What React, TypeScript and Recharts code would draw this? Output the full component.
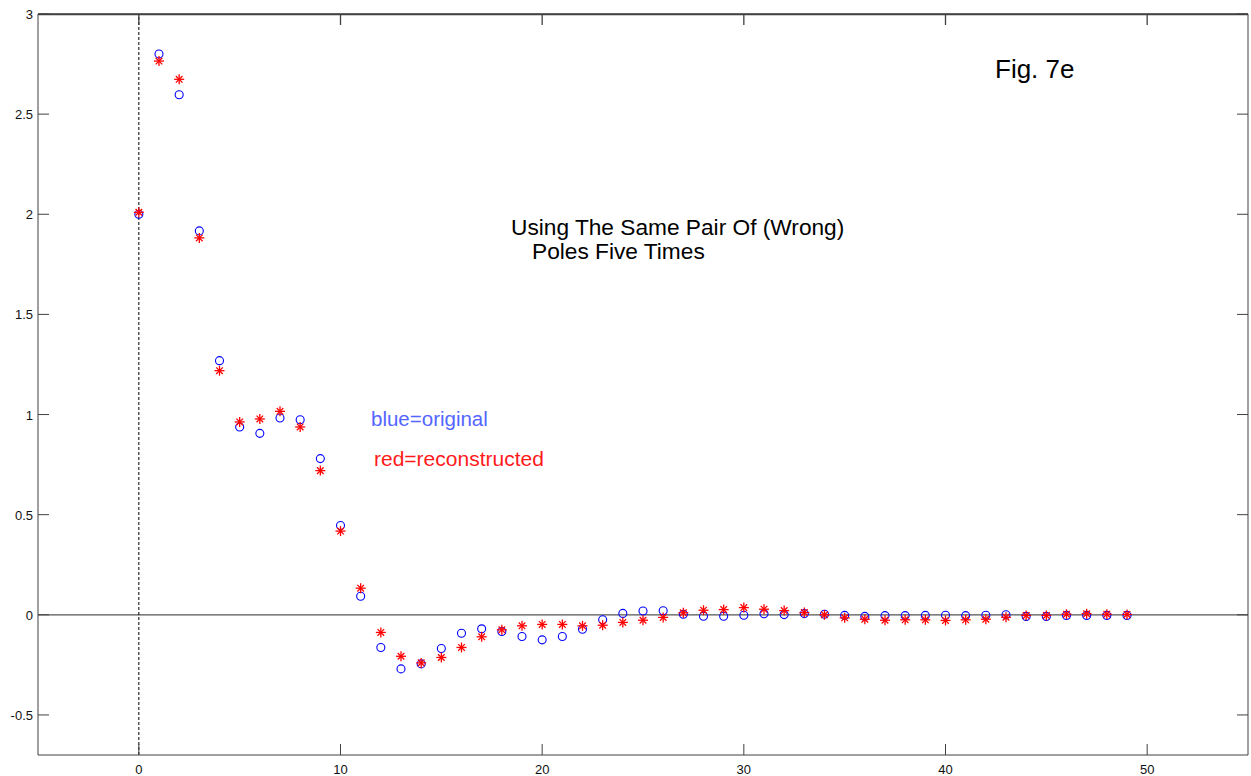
import React from 'react';
import { ScatterChart, Scatter, XAxis, YAxis, ReferenceLine, CartesianGrid } from 'recharts';

// sample values (n = 0..49)
const original = [
  2.0, 2.8, 2.597, 1.917, 1.269, 0.938, 0.906, 0.983, 0.974, 0.78,
  0.446, 0.093, -0.163, -0.27, -0.245, -0.168, -0.092, -0.07, -0.083, -0.108,
  -0.125, -0.108, -0.072, -0.025, 0.007, 0.019, 0.02, 0.003, -0.007, -0.007,
  -0.002, 0.005, 0.001, 0.006, 0.003, -0.003, -0.008, -0.004, -0.004, -0.003,
  -0.002, -0.004, -0.002, 0.0, -0.008, -0.008, -0.003, -0.003, -0.003, -0.003,
];
const reconstructed = [
  2.01, 2.765, 2.674, 1.882, 1.219, 0.963, 0.978, 1.016, 0.938, 0.72,
  0.418, 0.133, -0.088, -0.207, -0.24, -0.213, -0.163, -0.11, -0.075, -0.055,
  -0.048, -0.048, -0.055, -0.052, -0.038, -0.027, -0.013, 0.01, 0.023, 0.026,
  0.036, 0.028, 0.021, 0.011, 0.0, -0.015, -0.022, -0.027, -0.025, -0.025,
  -0.028, -0.025, -0.022, -0.012, -0.003, -0.003, 0.003, 0.005, 0.003, 0.002,
];
const xTicks = [0, 10, 20, 30, 40, 50];
const yTicks = [-0.5, 0, 0.5, 1, 1.5, 2, 2.5, 3];
const yLabels = ['-0.5', '0', '0.5', '1', '1.5', '2', '2.5', '3'];
const xDomain = [-5, 55];
const yDomain = [-0.7, 3];

const blueData = original.map((v, n) => ({ n, v }));
const redData = reconstructed.map((v, n) => ({ n, v }));

const FONT = 'Arial, "Liberation Sans", sans-serif';
const FRAME = '#404040';
const TICK = 11;

const Circle = (p: any) => (
  <circle cx={p.cx} cy={p.cy} r={4} fill="none" stroke="#0000ff" strokeWidth={1.1} />
);

const Star = (p: any) => {
  const { cx, cy } = p;
  const a = 5;
  const b = 3.3;
  return (
    <g stroke="#ff0000" strokeWidth={1.3}>
      <line x1={cx - a} y1={cy} x2={cx + a} y2={cy} />
      <line x1={cx} y1={cy - a} x2={cx} y2={cy + a} />
      <line x1={cx - b} y1={cy - b} x2={cx + b} y2={cy + b} />
      <line x1={cx - b} y1={cy + b} x2={cx + b} y2={cy - b} />
    </g>
  );
};

const Nothing = () => <g />;

const BottomTick = (p: any) => (
  <g>
    <line x1={p.x} y1={p.y} x2={p.x} y2={p.y - TICK} stroke={FRAME} />
    <text x={p.x} y={p.y + 18.5} textAnchor="middle" fontSize={13} fontFamily={FONT} fill="#111">
      {p.payload.value}
    </text>
  </g>
);

const TopTick = (p: any) => (
  <line x1={p.x} y1={p.y} x2={p.x} y2={p.y + TICK} stroke={FRAME} strokeWidth={1.3} />
);

const LeftTick = (p: any) => (
  <g>
    <line x1={p.x} y1={p.y} x2={p.x + TICK} y2={p.y} stroke={FRAME} />
    <text x={p.x - 5} y={p.y + 5} textAnchor="end" fontSize={13} fontFamily={FONT} fill="#111">
      {yLabels[yTicks.indexOf(p.payload.value)]}
    </text>
  </g>
);

const RightTick = (p: any) => (
  <line x1={p.x} y1={p.y} x2={p.x - TICK} y2={p.y} stroke={FRAME} />
);

export default function App() {
  return (
    <div style={{ position: 'absolute', left: 0, top: 0, width: 1251, height: 776, background: '#fff' }}>
      <ScatterChart width={1251} height={776} margin={{ top: 0, right: 2, bottom: 0, left: 0 }}>
        {/* top edge of the box, placed by the library at the plot's top offset */}
        <CartesianGrid
          vertical={false}
          horizontalCoordinatesGenerator={({ offset }: any) => [offset.top + 0.5]}
          stroke={FRAME}
          strokeWidth={1.5}
          strokeDasharray=""
        />
        <XAxis
          dataKey="n"
          type="number"
          domain={xDomain}
          ticks={xTicks}
          allowDataOverflow
          height={21}
          tickSize={0}
          tickMargin={0}
          tickLine={false}
          axisLine={{ stroke: FRAME }}
          tick={BottomTick}
          interval={0}
        />
        <XAxis
          xAxisId="top"
          dataKey="n"
          orientation="top"
          type="number"
          domain={xDomain}
          ticks={xTicks}
          allowDataOverflow
          height={14}
          tickSize={0}
          tickMargin={0}
          tickLine={false}
          axisLine={{ stroke: FRAME, strokeWidth: 1.5 }}
          tick={TopTick}
          interval={0}
        />
        <YAxis
          dataKey="v"
          type="number"
          domain={yDomain}
          ticks={yTicks}
          allowDataOverflow
          width={38}
          tickSize={0}
          tickMargin={0}
          tickLine={false}
          axisLine={{ stroke: FRAME }}
          tick={LeftTick}
          interval={0}
        />
        <YAxis
          yAxisId="right"
          dataKey="v"
          orientation="right"
          type="number"
          domain={yDomain}
          ticks={yTicks}
          allowDataOverflow
          width={1}
          tickSize={0}
          tickMargin={0}
          tickLine={false}
          axisLine={{ stroke: FRAME }}
          tick={RightTick}
          interval={0}
        />
        <ReferenceLine y={0} stroke="#555" strokeWidth={1.2} />
        <ReferenceLine x={0} stroke="#000" strokeDasharray="3 2" />
        {/* hidden series so the top/right box axes get drawn */}
        <Scatter data={blueData} xAxisId="top" yAxisId="right" shape={Nothing} isAnimationActive={false} />
        <Scatter data={blueData} shape={Circle} isAnimationActive={false} />
        <Scatter data={redData} shape={Star} isAnimationActive={false} />
      </ScatterChart>
      <svg width={1251} height={776} style={{ position: 'absolute', left: 0, top: 0, pointerEvents: 'none' }}>
        <text x={995} y={78} fontSize={26} fontFamily={FONT} fill="#000">Fig. 7e</text>
        <text x={511} y={235} fontSize={22.7} fontFamily={FONT} fill="#000">Using The Same Pair Of (Wrong)</text>
        <text x={532} y={259} fontSize={22.7} fontFamily={FONT} fill="#000">Poles Five Times</text>
        <text x={371} y={425.5} fontSize={20.5} fontFamily={FONT} fill="#5566ff">blue=original</text>
        <text x={374} y={465.5} fontSize={21} fontFamily={FONT} fill="#ff1a1a">red=reconstructed</text>
      </svg>
    </div>
  );
}
